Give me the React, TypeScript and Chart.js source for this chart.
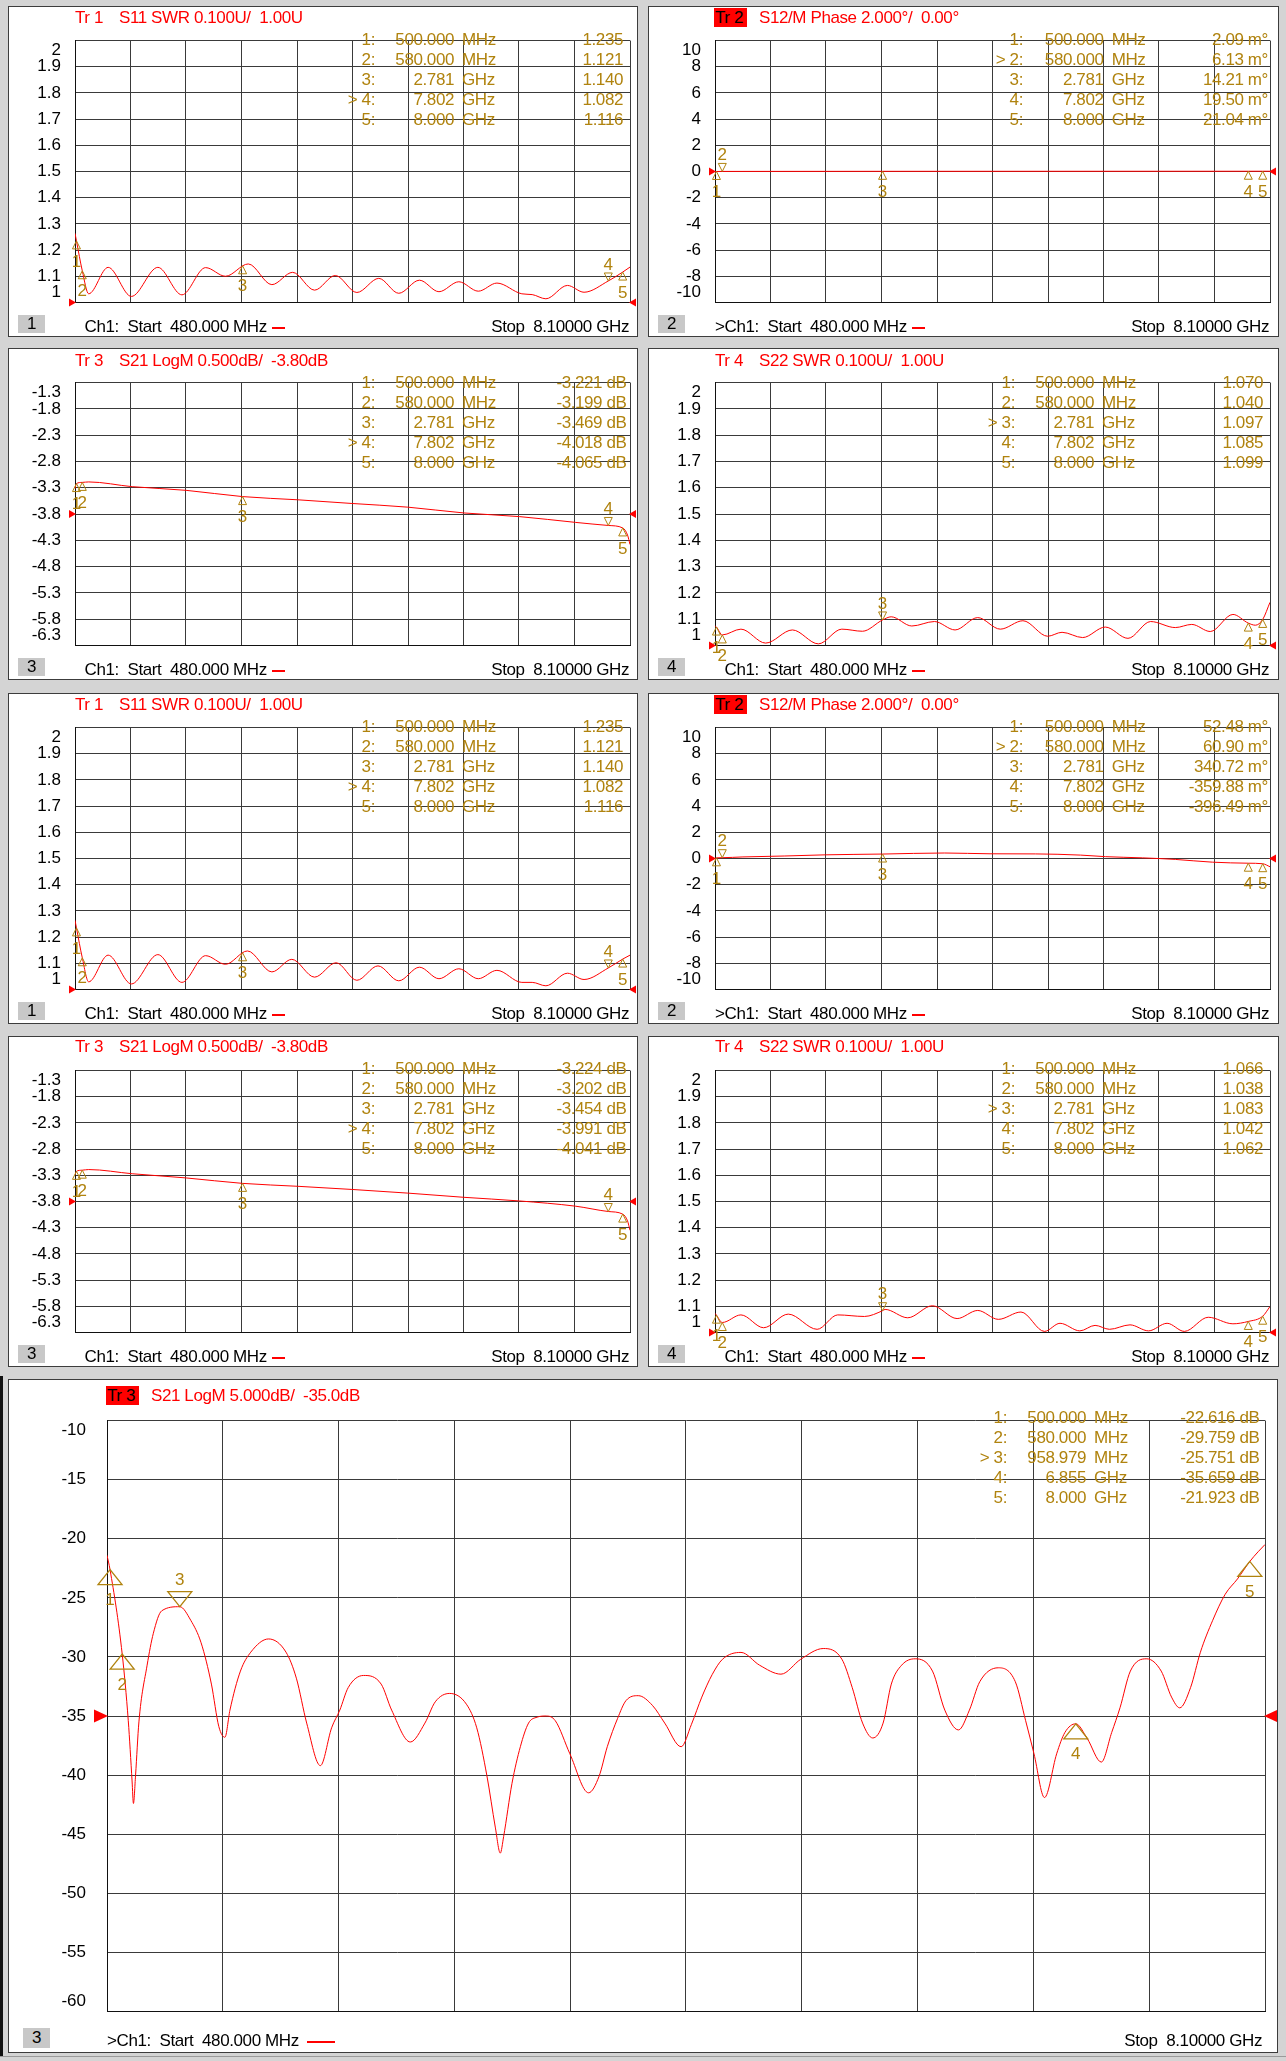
import React, { useEffect, useRef } from "react";
import { Chart, registerables } from "chart.js";

Chart.register(...registerables);

const FONT = "'Liberation Sans', Arial, Helvetica, sans-serif";
const RED = "#ff0000";
const GOLD = "#b0830e";
const GRID = "#3a3a3a";
const PAGE_BG = "#d4d4d4";
const LS = "-0.4px";

const START_GHZ = 0.48;
const STOP_GHZ = 8.1;

// ---- tick labels (bottom to top) ----
const SWR_TICKS = ["1", "1.1", "1.2", "1.3", "1.4", "1.5", "1.6", "1.7", "1.8", "1.9", "2"];
const PHASE_TICKS = ["-10", "-8", "-6", "-4", "-2", "0", "2", "4", "6", "8", "10"];
const S21_TICKS = ["-6.3", "-5.8", "-5.3", "-4.8", "-4.3", "-3.8", "-3.3", "-2.8", "-2.3", "-1.8", "-1.3"];
const S21_WIDE_TICKS = ["-60", "-55", "-50", "-45", "-40", "-35", "-30", "-25", "-20", "-15", "-10"];

// ---- markers ----
const MARKER_NAMES = ["1", "2", "3", "4", "5"];
const MARKER_FREQ = [0.5, 0.58, 2.781, 7.802, 8.0];
const MARKER_FREQ_TEXT = ["500.000", "580.000", "2.781", "7.802", "8.000"];
const MARKER_UNIT = ["MHz", "MHz", "GHz", "GHz", "GHz"];
const WIDE_MARKER_FREQ = [0.5, 0.58, 0.958979, 6.855, 8.0];
const WIDE_MARKER_FREQ_TEXT = ["500.000", "580.000", "958.979", "6.855", "8.000"];
const WIDE_MARKER_UNIT = ["MHz", "MHz", "MHz", "GHz", "GHz"];

const S11_A_MARKERS = [1.235, 1.121, 1.14, 1.082, 1.116];
const S12_A_MARKERS = [2.09, 6.13, 14.21, 19.5, 21.04]; // m°
const S21_A_MARKERS = [-3.221, -3.199, -3.469, -4.018, -4.065];
const S22_A_MARKERS = [1.07, 1.04, 1.097, 1.085, 1.099];
const S11_B_MARKERS = [1.235, 1.121, 1.14, 1.082, 1.116];
const S12_B_MARKERS = [52.48, 60.9, 340.72, -359.88, -396.49]; // m°
const S21_B_MARKERS = [-3.224, -3.202, -3.454, -3.991, -4.041];
const S22_B_MARKERS = [1.066, 1.038, 1.083, 1.042, 1.062];
const S21_WIDE_MARKERS = [-22.616, -29.759, -25.751, -35.659, -21.923];

type Pt = [number, number];

// ---- traces: [GHz, value] ----
const S11_A: Pt[] = [
  [0.48, 1.264], [0.5, 1.235], [0.58, 1.121], [0.668, 1.033], [0.935, 1.134], [1.254, 1.023],
  [1.618, 1.134], [1.948, 1.029], [2.273, 1.133], [2.546, 1.1], [2.859, 1.147], [3.183, 1.068],
  [3.468, 1.115], [3.769, 1.047], [4.054, 1.103], [4.35, 1.038], [4.651, 1.092], [4.925, 1.035],
  [5.209, 1.085], [5.477, 1.041], [5.75, 1.079], [6.017, 1.043], [6.273, 1.074], [6.615, 1.033],
  [6.757, 1.03], [6.945, 1.014], [7.241, 1.065], [7.469, 1.039], [7.802, 1.082], [8.0, 1.116], [8.1, 1.135],
];
const S12_A: Pt[] = [
  [0.48, 0.0], [0.5, 0.0021], [0.58, 0.0061], [2.781, 0.0142], [7.802, 0.0195], [8.0, 0.021], [8.1, 0.02],
];
const S21_A: Pt[] = [
  [0.48, -3.32], [0.5, -3.221], [0.58, -3.199], [0.668, -3.19], [1.265, -3.28], [2.005, -3.35],
  [2.781, -3.469], [3.541, -3.53], [4.282, -3.6], [5.05, -3.67], [5.818, -3.78], [6.586, -3.85],
  [7.355, -3.96], [7.802, -4.018], [8.0, -4.065], [8.066, -4.2], [8.1, -4.38],
];
const S22_A: Pt[] = [
  [0.48, 1.074], [0.5, 1.07], [0.58, 1.04], [0.836, 1.062], [1.175, 1.009], [1.543, 1.059],
  [1.899, 1.006], [2.221, 1.062], [2.504, 1.054], [2.781, 1.097], [2.899, 1.109], [3.182, 1.074],
  [3.493, 1.091], [3.776, 1.059], [4.087, 1.106], [4.397, 1.062], [4.708, 1.094], [5.047, 1.035],
  [5.245, 1.05], [5.528, 1.03], [5.839, 1.07], [6.15, 1.027], [6.461, 1.091], [6.8, 1.068],
  [7.026, 1.08], [7.28, 1.053], [7.591, 1.118], [7.802, 1.085], [7.9, 1.077], [8.0, 1.099], [8.1, 1.164],
];
const S11_B: Pt[] = [
  [0.48, 1.264], [0.5, 1.235], [0.58, 1.121], [0.668, 1.029], [0.935, 1.131], [1.254, 1.021],
  [1.618, 1.133], [1.948, 1.027], [2.273, 1.129], [2.546, 1.096], [2.848, 1.147], [3.183, 1.067],
  [3.457, 1.115], [3.769, 1.047], [4.065, 1.102], [4.35, 1.035], [4.64, 1.09], [4.925, 1.033],
  [5.209, 1.085], [5.477, 1.041], [5.75, 1.079], [6.017, 1.041], [6.273, 1.073], [6.615, 1.027],
  [6.757, 1.027], [6.945, 1.014], [7.241, 1.062], [7.469, 1.038], [7.802, 1.082], [8.0, 1.116], [8.1, 1.131],
];
const S12_B: Pt[] = [
  [0.48, 0.0], [0.5, 0.052], [0.58, 0.061], [0.864, 0.12], [1.43, 0.19], [1.995, 0.28], [2.781, 0.34],
  [3.634, 0.42], [4.256, 0.36], [4.878, 0.35], [5.5, 0.26], [5.84, 0.14], [6.348, 0.05], [6.8, -0.07],
  [7.309, -0.28], [7.802, -0.36], [8.0, -0.4], [8.1, -0.63],
];
const S21_B: Pt[] = [
  [0.48, -3.29], [0.5, -3.224], [0.58, -3.202], [0.668, -3.19], [1.265, -3.27], [2.005, -3.35],
  [2.781, -3.454], [3.541, -3.51], [4.282, -3.57], [5.05, -3.64], [5.818, -3.72], [6.586, -3.79],
  [7.355, -3.89], [7.802, -3.991], [8.0, -4.041], [8.066, -4.17], [8.1, -4.35],
];
const S22_B: Pt[] = [
  [0.48, 1.073], [0.5, 1.066], [0.58, 1.038], [0.836, 1.067], [1.147, 1.018], [1.486, 1.07],
  [1.882, 1.012], [2.165, 1.067], [2.532, 1.061], [2.781, 1.083], [2.815, 1.088], [3.126, 1.056],
  [3.465, 1.102], [3.804, 1.053], [4.087, 1.084], [4.37, 1.05], [4.681, 1.078], [5.003, 1.004],
  [5.217, 1.035], [5.489, 1.006], [5.698, 1.027], [5.896, 1.012], [6.178, 1.029], [6.432, 1.006],
  [6.687, 1.035], [6.924, 1.004], [7.252, 1.058], [7.591, 1.033], [7.802, 1.042], [8.0, 1.062], [8.1, 1.099],
];
const S21_WIDE: Pt[] = [
  [0.48, -21.4], [0.5, -22.616], [0.58, -29.759], [0.62, -35.4], [0.645, -40.5], [0.654, -42.4],
  [0.668, -40.0], [0.69, -35.5], [0.744, -30.7], [0.785, -28.0], [0.84, -26.1], [0.959, -25.751],
  [1.031, -26.9], [1.099, -28.8], [1.167, -32.3], [1.216, -35.9], [1.256, -36.8], [1.289, -34.5],
  [1.358, -31.2], [1.426, -29.6], [1.543, -28.48], [1.658, -29.6], [1.726, -31.8], [1.794, -35.6],
  [1.884, -39.2], [1.958, -36.0], [2.012, -34.5], [2.067, -32.6], [2.168, -31.57], [2.284, -32.3],
  [2.353, -34.5], [2.476, -37.2], [2.572, -35.6], [2.64, -33.8], [2.735, -33.09], [2.845, -34.0],
  [2.913, -36.0], [2.98, -40.06], [3.035, -44.4], [3.068, -46.6], [3.09, -45.2], [3.145, -40.7],
  [3.2, -37.6], [3.254, -35.6], [3.31, -35.1], [3.371, -35.0], [3.43, -35.4], [3.526, -38.2],
  [3.649, -41.5], [3.718, -40.1], [3.772, -37.6], [3.84, -35.2], [3.895, -33.7], [3.976, -33.28],
  [4.069, -34.1], [4.15, -35.6], [4.258, -37.6], [4.326, -35.7], [4.394, -33.4], [4.462, -31.5],
  [4.53, -30.2], [4.652, -29.62], [4.774, -30.7], [4.915, -31.46], [5.045, -30.2], [5.193, -29.29],
  [5.316, -30.2], [5.384, -32.6], [5.452, -35.6], [5.519, -36.86], [5.587, -35.6], [5.641, -32.3],
  [5.709, -30.7], [5.798, -30.16], [5.912, -31.2], [5.993, -34.5], [6.083, -36.18], [6.155, -34.5],
  [6.223, -32.1], [6.345, -30.92], [6.457, -32.1], [6.525, -35.4], [6.58, -38.2], [6.649, -41.9],
  [6.729, -38.2], [6.783, -36.4], [6.855, -35.659], [6.93, -36.9], [7.023, -38.9], [7.091, -36.4],
  [7.146, -34.3], [7.214, -31.2], [7.322, -30.16], [7.417, -31.2], [7.485, -33.4], [7.539, -34.31],
  [7.61, -32.6], [7.675, -29.6], [7.756, -26.9], [7.838, -24.7], [7.919, -23.4], [8.0, -21.923],
  [8.055, -21.1], [8.1, -20.49],
];

// ---- panel specs ----
interface Spec {
  key: string;
  x: number; y: number; w: number; h: number;
  plotL: number; plotR: number; plotT: number; plotB: number;
  trNum: string; title: string; activeTrace: boolean; boxNum: string;
  yMin: number; yMax: number; yTicks: string[]; refValue: number;
  trace: Pt[];
  mF: number[]; mFText: string[]; mUnit: string[]; mVal: number[]; mScale: number;
  mFmt: (v: number) => string;
  activeMarker: number;
  cols: number[];
  big: boolean;
}

const fmtSWR = (v: number) => v.toFixed(3);
const fmtDB = (v: number) => v.toFixed(3) + " dB";
const fmtMDeg = (v: number) => v.toFixed(2) + " m\u00b0";

const COL_L = { x: 8, w: 630, plotL: 75, plotR: 630 };
const COL_R = { x: 648, w: 631, plotL: 715, plotR: 1270 };
const ROWS = [
  { y: 6, h: 331, plotT: 29, plotB: 313 },
  { y: 348, h: 332, plotT: 372, plotB: 656 },
  { y: 693, h: 331, plotT: 716, plotB: 1000 },
  { y: 1036, h: 331, plotT: 1058, plotB: 1343 },
];

const COLS_SWR = [255, 176, 168, 7];
const COLS_S21 = [255, 176, 168, 3.5];
const COLS_PH = [247, 166.5, 158.3, 2];

function small(
  key: string, col: typeof COL_L, row: (typeof ROWS)[number], trNum: string, title: string,
  activeTrace: boolean, kind: "swr" | "ph" | "s21", trace: Pt[], mVal: number[], activeMarker: number
): Spec {
  const base = {
    key, x: col.x, w: col.w, plotL: col.plotL, plotR: col.plotR,
    y: row.y, h: row.h, plotT: row.plotT, plotB: row.plotB,
    trNum, title, activeTrace, boxNum: trNum, trace,
    mF: MARKER_FREQ, mFText: MARKER_FREQ_TEXT, mUnit: MARKER_UNIT, mVal, activeMarker, big: false,
  };
  if (kind === "swr")
    return { ...base, yMin: 1, yMax: 2, yTicks: SWR_TICKS, refValue: 1, mScale: 1, mFmt: fmtSWR, cols: COLS_SWR };
  if (kind === "ph")
    return { ...base, yMin: -10, yMax: 10, yTicks: PHASE_TICKS, refValue: 0, mScale: 0.001, mFmt: fmtMDeg, cols: COLS_PH };
  return { ...base, yMin: -6.3, yMax: -1.3, yTicks: S21_TICKS, refValue: -3.8, mScale: 1, mFmt: fmtDB, cols: COLS_S21 };
}

const SPECS: Spec[] = [
  small("p1", COL_L, ROWS[0], "1", "S11 SWR 0.100U/  1.00U", false, "swr", S11_A, S11_A_MARKERS, 3),
  small("p2", COL_R, ROWS[0], "2", "S12/M Phase 2.000\u00b0/  0.00\u00b0", true, "ph", S12_A, S12_A_MARKERS, 1),
  small("p3", COL_L, ROWS[1], "3", "S21 LogM 0.500dB/  -3.80dB", false, "s21", S21_A, S21_A_MARKERS, 3),
  small("p4", COL_R, ROWS[1], "4", "S22 SWR 0.100U/  1.00U", false, "swr", S22_A, S22_A_MARKERS, 2),
  small("p5", COL_L, ROWS[2], "1", "S11 SWR 0.100U/  1.00U", false, "swr", S11_B, S11_B_MARKERS, 3),
  small("p6", COL_R, ROWS[2], "2", "S12/M Phase 2.000\u00b0/  0.00\u00b0", true, "ph", S12_B, S12_B_MARKERS, 1),
  small("p7", COL_L, ROWS[3], "3", "S21 LogM 0.500dB/  -3.80dB", false, "s21", S21_B, S21_B_MARKERS, 3),
  small("p8", COL_R, ROWS[3], "4", "S22 SWR 0.100U/  1.00U", false, "swr", S22_B, S22_B_MARKERS, 2),
  {
    key: "big", x: 8, y: 1379, w: 1270, h: 674, plotL: 107, plotR: 1265, plotT: 1407, plotB: 2022,
    trNum: "3", title: "S21 LogM 5.000dB/  -35.0dB", activeTrace: true, boxNum: "3",
    yMin: -60, yMax: -10, yTicks: S21_WIDE_TICKS, refValue: -35, trace: S21_WIDE,
    mF: WIDE_MARKER_FREQ, mFText: WIDE_MARKER_FREQ_TEXT, mUnit: WIDE_MARKER_UNIT, mVal: S21_WIDE_MARKERS,
    mScale: 1, mFmt: fmtDB, activeMarker: 2, cols: [258, 179, 171, 5.5], big: true,
  },
];

function markerPlugin(s: Spec) {
  return {
    id: "vnaMarkers" + s.key,
    afterDatasetsDraw(chart: any) {
      const { ctx, chartArea, scales } = chart;
      const xs = scales.x;
      const ys = scales.y;
      ctx.save();
      // reference level arrows
      const ry = ys.getPixelForValue(s.refValue);
      const rw = s.big ? 13 : 6;
      const rh = s.big ? 13 : 8;
      ctx.fillStyle = RED;
      ctx.beginPath();
      ctx.moveTo(chartArea.left + 1, ry);
      ctx.lineTo(chartArea.left - rw, ry - rh / 2);
      ctx.lineTo(chartArea.left - rw, ry + rh / 2);
      ctx.closePath();
      ctx.fill();
      ctx.beginPath();
      ctx.moveTo(chartArea.right - 1, ry);
      ctx.lineTo(chartArea.right + rw, ry - rh / 2);
      ctx.lineTo(chartArea.right + rw, ry + rh / 2);
      ctx.closePath();
      ctx.fill();
      // markers
      const tw = s.big ? 24 : 8;
      const th = s.big ? 15 : 8;
      const below = s.big ? 31 : 21;
      const above = s.big ? 26 : 16;
      ctx.strokeStyle = GOLD;
      ctx.fillStyle = GOLD;
      ctx.lineWidth = s.big ? 1.3 : 1;
      ctx.font = `17px ${FONT}`;
      ctx.textAlign = "center";
      ctx.textBaseline = "middle";
      s.mF.forEach((f, i) => {
        const px = xs.getPixelForValue(f);
        const py = ys.getPixelForValue(s.mVal[i] * s.mScale);
        const active = i === s.activeMarker;
        const dir = active ? -1 : 1;
        ctx.beginPath();
        ctx.moveTo(px, py);
        ctx.lineTo(px - tw / 2, py + dir * th);
        ctx.lineTo(px + tw / 2, py + dir * th);
        ctx.closePath();
        ctx.stroke();
        ctx.fillText(MARKER_NAMES[i], px, active ? py - above : py + below);
      });
      ctx.restore();
    },
  };
}

const TXT: React.CSSProperties = {
  position: "absolute",
  font: `17px ${FONT}`,
  letterSpacing: LS,
  lineHeight: "20px",
  height: 20,
  whiteSpace: "pre",
};

function Panel({ s }: { s: Spec }) {
  const ref = useRef<HTMLCanvasElement>(null);
  const innerL = s.x + 1;
  const innerT = s.y + 1;
  const innerW = s.w - 2;
  const innerH = s.h - 2;

  useEffect(() => {
    const canvas = ref.current;
    if (!canvas) return;
    const chart = new Chart(canvas, {
      type: "line",
      data: {
        datasets: [
          {
            data: s.trace.map(([f, v]) => ({ x: f, y: v })),
            borderColor: RED,
            borderWidth: 1,
            pointRadius: 0,
            fill: false,
            cubicInterpolationMode: "monotone",
          },
        ],
      },
      options: {
        responsive: false,
        maintainAspectRatio: false,
        animation: false,
        devicePixelRatio: 1,
        events: [],
        layout: {
          padding: {
            left: 0,
            top: s.plotT - innerT,
            right: innerL + innerW - s.plotR,
            bottom: innerT + innerH - s.plotB,
          },
        },
        plugins: { legend: { display: false }, tooltip: { enabled: false }, title: { display: false } },
        scales: {
          x: {
            type: "linear",
            min: START_GHZ,
            max: STOP_GHZ,
            ticks: { display: false, count: 11 },
            grid: { color: GRID, lineWidth: 1, drawTicks: false },
            border: { display: true, color: "#111", width: 1 },
            afterFit: (sc: any) => {
              sc.height = 0;
            },
          },
          y: {
            type: "linear",
            min: s.yMin,
            max: s.yMax,
            ticks: {
              count: 11,
              autoSkip: false,
              padding: s.big ? 21 : 14,
              color: "#000",
              font: { family: FONT, size: 17, lineHeight: 1.15 },
              callback: (_v: any, i: number, ticks: any[]) => {
                const lab = s.yTicks[i] ?? "";
                if (i === 0) return [lab, ""];
                if (i === ticks.length - 1) return ["", lab];
                return lab;
              },
            },
            grid: { color: GRID, lineWidth: 1, drawTicks: false },
            border: { display: true, color: "#111", width: 1 },
            afterFit: (sc: any) => {
              sc.width = s.plotL - innerL;
            },
          },
        },
      } as any,
      plugins: [markerPlugin(s)],
    });
    return () => chart.destroy();
  }, [s]);

  const [A, B, C, D] = s.cols;
  const footerY = s.big ? s.plotB + 19 : s.plotB + 14;
  const boxW = 27;
  const boxH = s.big ? 20 : 18;

  return (
    <>
      <div
        style={{
          position: "absolute",
          left: s.x,
          top: s.y,
          width: s.w,
          height: s.h,
          boxSizing: "border-box",
          border: "1px solid #3c3c3c",
          background: "#ffffff",
        }}
      >
        <canvas
          ref={ref}
          width={innerW}
          height={innerH}
          style={{ position: "absolute", left: 0, top: 0, width: innerW, height: innerH }}
        />
      </div>

      {/* title */}
      <div
        style={{
          ...TXT,
          left: s.plotL - 1,
          top: s.plotT - 21,
          width: 33,
          height: 19,
          lineHeight: "19px",
          paddingLeft: 1,
          boxSizing: "border-box",
          background: s.activeTrace ? RED : "transparent",
          color: s.activeTrace ? "#000" : RED,
        }}
      >
        {"Tr " + s.trNum}
      </div>
      <div style={{ ...TXT, left: s.plotL + 44, top: s.plotT - 21, height: 19, lineHeight: "19px", color: RED }}>
        {s.title}
      </div>

      {/* marker table */}
      {s.mFText.map((ft, i) => {
        const top = s.plotT + 1 + 20 * i;
        const active = i === s.activeMarker;
        return (
          <React.Fragment key={i}>
            <div style={{ ...TXT, color: GOLD, left: s.plotR - A - 60, width: 60, textAlign: "right", top }}>
              {(active ? "> " : "") + MARKER_NAMES[i] + ":"}
            </div>
            <div style={{ ...TXT, color: GOLD, left: s.plotR - B - 90, width: 90, textAlign: "right", top }}>
              {ft}
            </div>
            <div style={{ ...TXT, color: GOLD, left: s.plotR - C, top }}>{s.mUnit[i]}</div>
            <div style={{ ...TXT, color: GOLD, left: s.plotR - D - 130, width: 130, textAlign: "right", top }}>
              {s.mFmt(s.mVal[i])}
            </div>
          </React.Fragment>
        );
      })}

      {/* footer */}
      <div style={{ ...TXT, left: s.plotL, top: footerY - 10, color: "#000" }}>
        <span style={{ visibility: s.activeTrace ? "visible" : "hidden" }}>{">"}</span>
        {"Ch1:  Start  480.000 MHz"}
        <span
          style={{
            display: "inline-block",
            width: s.big ? 28 : 13,
            height: 2,
            background: RED,
            marginLeft: s.big ? 8 : 5,
            verticalAlign: "middle",
          }}
        />
      </div>
      <div
        style={{
          ...TXT,
          left: s.plotR - (s.big ? 3 : 1) - 300,
          width: 300,
          textAlign: "right",
          top: footerY - 10,
          color: "#000",
        }}
      >
        {"Stop  8.10000 GHz"}
      </div>

      {/* channel/trace number box */}
      <div
        style={{
          ...TXT,
          left: s.x + (s.big ? 15 : 10),
          top: s.plotB + (s.big ? 6 : 2),
          width: boxW,
          height: boxH,
          lineHeight: boxH + "px",
          background: "#c8c8c8",
          color: "#000",
          textAlign: "center",
        }}
      >
        {s.boxNum}
      </div>
    </>
  );
}

export default function App() {
  return (
    <div
      style={{
        position: "absolute",
        left: 0,
        top: 0,
        width: 1286,
        height: 2061,
        background: PAGE_BG,
        overflow: "hidden",
        fontFamily: FONT,
      }}
    >
      <div style={{ position: "absolute", left: 0, top: 1376, width: 3, height: 680, background: "#111" }} />
      {SPECS.map((s) => (
        <Panel key={s.key} s={s} />
      ))}
      <div style={{ position: "absolute", left: 0, top: 2056, width: 1286, height: 1, background: "#9a9a9a" }} />
    </div>
  );
}
